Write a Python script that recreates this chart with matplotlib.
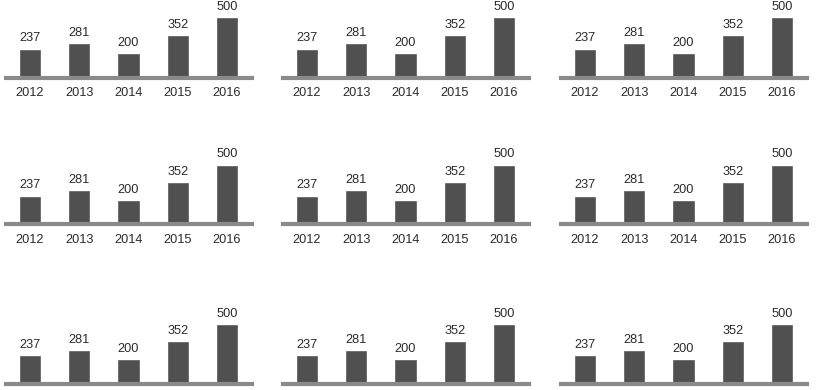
import matplotlib
matplotlib.use("Agg")
import matplotlib.pyplot as plt

years = ["2012", "2013", "2014", "2015", "2016"]
values = [237, 281, 200, 352, 500]

BAR = "#505050"
BASE = "#8a8a8a"
TXT = "#2a2a2a"

plt.rcParams['font.family'] = ['Liberation Sans', 'DejaVu Sans']

W, H = 820, 390
fig = plt.figure(figsize=(W / 100, H / 100), dpi=100)

col_left = [6, 283, 561]
panel_w = 246
row_base = [77.5, 224.5, 384.0]
px_500 = 59.0
ax_h = 80.0

for ri, rb in enumerate(row_base):
    for cl in col_left:
        ax = fig.add_axes([cl / W, 1 - rb / H, panel_w / W, ax_h / H])
        ax.set_xlim(-0.49, 4.51)
        ax.set_ylim(0, 500 * ax_h / px_500)
        xs = list(range(len(years)))
        ax.bar(xs, values, width=0.41, color=BAR, edgecolor="#5a5a5a", linewidth=0.5, zorder=2)
        ax.axhline(0, color=BASE, linewidth=3.0, zorder=3, clip_on=False)
        for x, v, yr in zip(xs, values, years):
            ax.annotate(str(v), (x, v), xytext=(0, 8), textcoords="offset points",
                        ha="center", va="center", fontsize=9.2, color=TXT)
            if ri < len(row_base) - 1:
                ax.annotate(yr, (x, 0), xytext=(0, -11), textcoords="offset points",
                            ha="center", va="center", fontsize=9.2, color=TXT,
                            annotation_clip=False)
        ax.axis("off")

fig.savefig("out.png", dpi=100)
